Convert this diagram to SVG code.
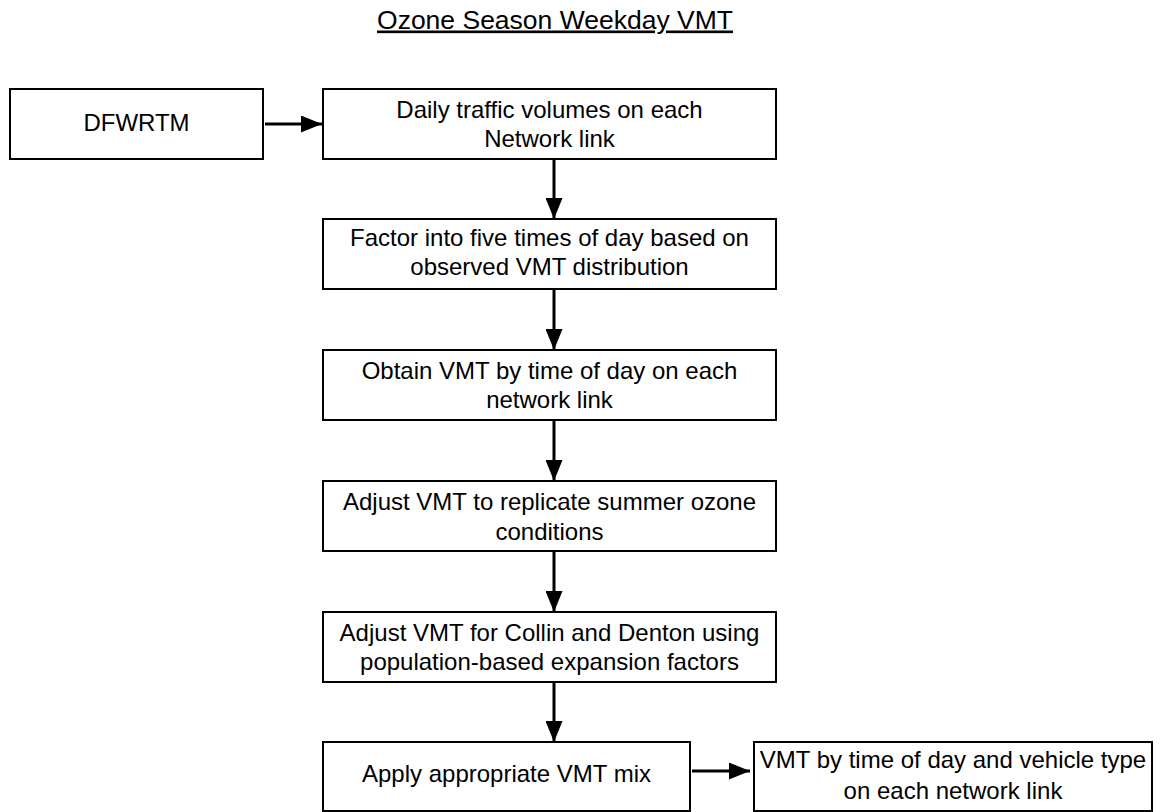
<svg xmlns="http://www.w3.org/2000/svg" width="1161" height="812" viewBox="0 0 1161 812">
<defs>
<style>
.box{fill:#fff;stroke:#000;stroke-width:2}
.t{font-family:"Liberation Sans",Arial,sans-serif;font-size:24px;fill:#000;text-anchor:middle}
.ttl{font-size:26.5px}
.c{stroke:#000;stroke-width:3;fill:none}
</style>
<marker id="ah" markerUnits="userSpaceOnUse" markerWidth="21" markerHeight="17" refX="21" refY="8.5" orient="auto">
<path d="M0,0 L21,8.5 L0,17 Z" fill="#000"/>
</marker>
</defs>
<rect width="1161" height="812" fill="#fff"/>
<g id="title">
<text class="t ttl" x="555" y="28.5" text-decoration="underline">Ozone Season Weekday VMT</text>
</g>
<g id="connectors">
<line class="c" x1="265" y1="124" x2="322" y2="124" marker-end="url(#ah)"/>
<line class="c" x1="554" y1="160" x2="554" y2="219" marker-end="url(#ah)"/>
<line class="c" x1="554" y1="290" x2="554" y2="350" marker-end="url(#ah)"/>
<line class="c" x1="554" y1="421" x2="554" y2="481" marker-end="url(#ah)"/>
<line class="c" x1="554" y1="552" x2="554" y2="612" marker-end="url(#ah)"/>
<line class="c" x1="554" y1="683" x2="554" y2="742" marker-end="url(#ah)"/>
<line class="c" x1="692" y1="771" x2="750" y2="771" marker-end="url(#ah)"/>
</g>
<g id="n0">
<rect class="box" x="10" y="89" width="253" height="70"/>
<text class="t" x="136.5" y="131">DFWRTM</text>
</g>
<g id="n1">
<rect class="box" x="323" y="89" width="453" height="70"/>
<text class="t" x="549.5" y="118">Daily traffic volumes on each</text>
<text class="t" x="549.5" y="147">Network link</text>
</g>
<g id="n2">
<rect class="box" x="323" y="219" width="453" height="70"/>
<text class="t" x="549.5" y="246">Factor into five times of day based on</text>
<text class="t" x="549.5" y="275">observed VMT distribution</text>
</g>
<g id="n3">
<rect class="box" x="323" y="350" width="453" height="70"/>
<text class="t" x="549.5" y="379">Obtain VMT by time of day on each</text>
<text class="t" x="549.5" y="408">network link</text>
</g>
<g id="n4">
<rect class="box" x="323" y="481" width="453" height="70"/>
<text class="t" x="549.5" y="510">Adjust VMT to replicate summer ozone</text>
<text class="t" x="549.5" y="540">conditions</text>
</g>
<g id="n5">
<rect class="box" x="323" y="612" width="453" height="70"/>
<text class="t" x="549.5" y="641">Adjust VMT for Collin and Denton using</text>
<text class="t" x="549.5" y="670">population-based expansion factors</text>
</g>
<g id="n6">
<rect class="box" x="323" y="742" width="367" height="69"/>
<text class="t" x="506.5" y="782">Apply appropriate VMT mix</text>
</g>
<g id="n7">
<rect class="box" x="754" y="742" width="398" height="69"/>
<text class="t" x="953" y="768">VMT by time of day and vehicle type</text>
<text class="t" x="953" y="799">on each network link</text>
</g>
</svg>
